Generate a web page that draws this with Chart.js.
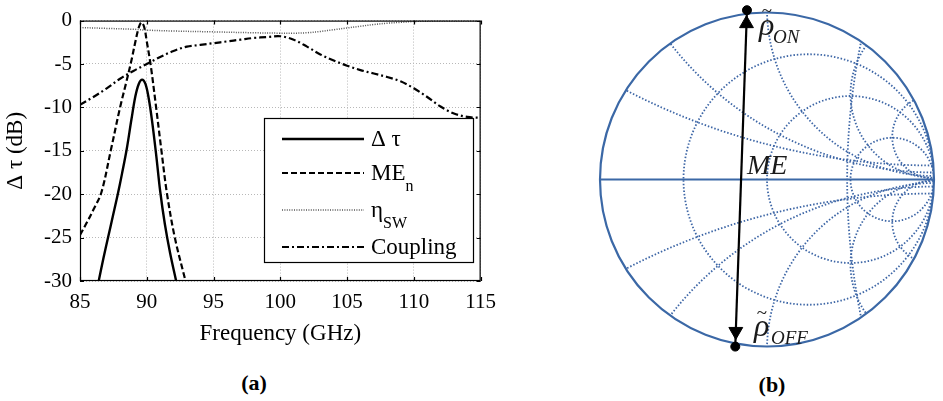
<!DOCTYPE html>
<html>
<head>
<meta charset="utf-8">
<script src="https://cdn.jsdelivr.net/npm/chart.js@4.4.1/dist/chart.umd.min.js"></script>
<style>
  body { margin: 0; background: #fff; }
  #wrap { position: relative; width: 943px; height: 401px; overflow: hidden; font-family: "Liberation Serif", serif; }
  #boxA { position: absolute; left: 0; top: 0; }
  #boxB { position: absolute; left: 590px; top: 0; }
  .cap { position: absolute; font-weight: bold; font-size: 22px; transform: translate(-50%, -50%); color: #000; }
</style>
</head>
<body>
<div id="wrap">
  <div id="boxA"><canvas id="chartA" width="505" height="350"></canvas></div>
  <div id="boxB"><canvas id="chartB" width="353" height="360"></canvas></div>
  <div class="cap" style="left:254px; top:383px;">(a)</div>
  <div class="cap" style="left:772px; top:385px;">(b)</div>
</div>
<script>
// ========== data ==========
const freqDeltaTau = [86.4, 86.75, 87.1, 87.45, 87.8, 88.15, 88.5, 88.85, 89.15, 89.4, 89.65, 89.9, 90.15, 90.4, 90.7, 91.0, 91.35, 91.75, 92.2];
const deltaTau     = [-30, -27.4, -25, -22.6, -20.2, -17.6, -14.8, -11.4, -8.7, -7.3, -6.8, -7.3, -9.0, -11.6, -15.4, -19.6, -23.4, -26.8, -30];

const freqMEn = [85, 85.5, 86.0, 86.6, 87.3, 88.0, 88.45, 88.85, 89.15, 89.4, 89.6, 89.8, 90.0, 90.3, 90.7, 91.1, 91.5, 92.1, 92.9];
const meN     = [-24.7, -23.3, -21.8, -19.8, -15, -10, -7.2, -4.6, -2.4, -0.8, -0.2, -0.7, -2.4, -5.2, -10, -15, -19.8, -25, -30];

const freqEtaSW = [85, 87, 89, 90, 92, 95, 98, 100, 101, 102, 103, 104, 105, 106, 107, 108, 109, 110, 112, 115];
const etaSW     = [-0.8, -0.9, -1.0, -1.1, -1.2, -1.3, -1.4, -1.45, -1.45, -1.4, -1.25, -1.05, -0.85, -0.65, -0.45, -0.3, -0.2, -0.1, -0.05, -0.05];

const freqCoupling = [85, 86, 87, 88, 89, 90, 91, 92, 93, 94, 95, 96, 97, 98, 99, 100, 101, 102, 103, 104, 105, 106, 107, 108, 109, 110, 111, 112, 113, 114, 115];
const coupling     = [-9.7, -8.8, -7.8, -6.7, -5.8, -5.0, -4.2, -3.5, -3.0, -2.8, -2.6, -2.4, -2.2, -2.0, -1.9, -1.8, -2.2, -3.0, -3.9, -4.6, -5.2, -5.7, -6.1, -6.5, -7.0, -7.8, -8.8, -9.9, -10.7, -11.1, -11.2];

const xTicks = [85, 90, 95, 100, 105, 110, 115];
const yTicks = [-30, -25, -20, -15, -10, -5, 0];

// ========== values for panel (b) ==========
const smithR = [1 / 3, 1, 3];          // resistance circles
const smithX = [0.25, 0.5, 1, 2, 4];   // reactance arcs (+/-)
const rhoOn  = [-0.12, 0.993];
const rhoOff = [-0.19, -0.98];

const serif = "Liberation Serif";

function pts(xs, ys) {
  return xs.map((x, i) => ({ x: x, y: ys[i] }));
}

// ========== plugins for panel (a) ==========
const frameA = {
  id: "frameA",
  afterDatasetsDraw(chart) {
    const { ctx, chartArea: a, scales } = chart;
    ctx.save();
    ctx.strokeStyle = "#000";
    ctx.lineWidth = 1.2;
    ctx.setLineDash([]);
    ctx.strokeRect(a.left + 0.5, a.top + 0.5, a.right - a.left - 1, a.bottom - a.top - 1);
    ctx.beginPath();
    xTicks.forEach(v => {
      const px = Math.round(scales.x.getPixelForValue(v)) + 0.5;
      ctx.moveTo(px, a.bottom); ctx.lineTo(px, a.bottom - 4);
      ctx.moveTo(px, a.top); ctx.lineTo(px, a.top + 4);
    });
    yTicks.forEach(v => {
      const py = Math.round(scales.y.getPixelForValue(v)) + 0.5;
      ctx.moveTo(a.left, py); ctx.lineTo(a.left + 4, py);
      ctx.moveTo(a.right, py); ctx.lineTo(a.right - 4, py);
    });
    ctx.stroke();
    ctx.restore();
  }
};

const legendA = {
  id: "legendA",
  afterDraw(chart) {
    const ctx = chart.ctx;
    const box = { l: 264, t: 118, r: 473, b: 262 };
    const rows = [
      { main: "\u0394 \u03C4", sub: "", y: 139 },
      { main: "ME", sub: "n", y: 173 },
      { main: "\u03B7", sub: "SW", y: 210 },
      { main: "Coupling", sub: "", y: 247 }
    ];
    ctx.save();
    ctx.fillStyle = "#fff";
    ctx.fillRect(box.l, box.t, box.r - box.l, box.b - box.t);
    ctx.strokeStyle = "#000";
    ctx.lineWidth = 1.2;
    ctx.setLineDash([]);
    ctx.strokeRect(box.l + 0.5, box.t + 0.5, box.r - box.l, box.b - box.t);
    rows.forEach((row, i) => {
      const ds = chart.data.datasets[i];
      ctx.beginPath();
      ctx.strokeStyle = ds.borderColor;
      ctx.lineWidth = ds.borderWidth;
      ctx.setLineDash(ds.borderDash || []);
      ctx.moveTo(282, row.y);
      ctx.lineTo(364, row.y);
      ctx.stroke();
      ctx.setLineDash([]);
      ctx.fillStyle = "#000";
      ctx.textBaseline = "alphabetic";
      ctx.font = "23px \"" + serif + "\"";
      ctx.fillText(row.main, 371, row.y + 7);
      if (row.sub) {
        const w = ctx.measureText(row.main).width;
        ctx.font = "16px \"" + serif + "\"";
        ctx.fillText(row.sub, 371 + w, row.y + 18);
      }
    });
    ctx.restore();
  }
};

const tickFont = { family: serif, size: 21 };
const titleFont = { family: serif, size: 23 };

new Chart(document.getElementById("chartA"), {
  type: "scatter",
  data: {
    datasets: [
      { label: "\u0394 \u03C4", data: pts(freqDeltaTau, deltaTau), showLine: true, borderColor: "#000", borderWidth: 2.4, borderDash: [], pointRadius: 0, tension: 0.35 },
      { label: "ME_n", data: pts(freqMEn, meN), showLine: true, borderColor: "#000", borderWidth: 2.2, borderDash: [6, 3], pointRadius: 0, tension: 0.35 },
      { label: "eta_SW", data: pts(freqEtaSW, etaSW), showLine: true, borderColor: "#555", borderWidth: 1.5, borderDash: [1, 1.4], pointRadius: 0, tension: 0.35 },
      { label: "Coupling", data: pts(freqCoupling, coupling), showLine: true, borderColor: "#000", borderWidth: 2.2, borderDash: [7, 3, 2, 3], pointRadius: 0, tension: 0.35 }
    ]
  },
  options: {
    responsive: false,
    animation: false,
    layout: { padding: { top: 13, right: 20, left: 0, bottom: 0 } },
    plugins: { legend: { display: false }, tooltip: { enabled: false } },
    scales: {
      x: {
        type: "linear", min: 85, max: 115,
        afterBuildTicks: s => { s.ticks = xTicks.map(v => ({ value: v })); },
        ticks: { color: "#000", font: tickFont, padding: 9, maxRotation: 0 },
        grid: { color: "#b8b8b8", lineWidth: 1, drawTicks: false },
        border: { display: false, dash: [1, 2] },
        title: { display: true, text: "Frequency (GHz)", color: "#000", font: titleFont, padding: { top: 0, bottom: 2 } },
        afterFit: s => { s.height = 69; }
      },
      y: {
        min: -30, max: 0,
        afterBuildTicks: s => { s.ticks = yTicks.map(v => ({ value: v })); },
        ticks: { color: "#000", font: tickFont, padding: 8 },
        grid: { color: "#b8b8b8", lineWidth: 1, drawTicks: false },
        border: { display: false, dash: [1, 2] },
        title: { display: true, text: "\u0394 \u03C4 (dB)", color: "#000", font: titleFont, padding: { top: 2, bottom: 0 } },
        afterFit: s => { s.width = 80; }
      }
    }
  },
  plugins: [frameA, legendA]
});

// ========== plugins for panel (b) ==========
const smithGrid = {
  id: "smithGrid",
  beforeDatasetsDraw(chart) {
    const { ctx, scales } = chart;
    const sx = scales.x, sy = scales.y;
    const cx = sx.getPixelForValue(0), cy = sy.getPixelForValue(0);
    const R = sx.getPixelForValue(1) - cx;
    const circle = (gx, gy, gr) => {
      ctx.beginPath();
      ctx.arc(sx.getPixelForValue(gx), sy.getPixelForValue(gy), gr * R, 0, Math.PI * 2);
      ctx.stroke();
    };
    ctx.save();
    ctx.beginPath();
    ctx.arc(cx, cy, R, 0, Math.PI * 2);
    ctx.clip();
    ctx.strokeStyle = "#3d66a6";
    ctx.lineWidth = 1.8;
    ctx.setLineDash([1.5, 1.9]);
    smithR.forEach(r => circle(r / (1 + r), 0, 1 / (1 + r)));
    smithX.forEach(x => { circle(1, 1 / x, 1 / x); circle(1, -1 / x, 1 / x); });
    circle(4.61, 0, 4.13);
    ctx.restore();

    ctx.save();
    ctx.strokeStyle = "#3b68a6";
    ctx.setLineDash([]);
    ctx.lineWidth = 2.2;
    ctx.beginPath();
    ctx.arc(cx, cy, R, 0, Math.PI * 2);
    ctx.stroke();
    ctx.lineWidth = 1.8;
    ctx.beginPath();
    ctx.moveTo(sx.getPixelForValue(-1), cy);
    ctx.lineTo(sx.getPixelForValue(1), cy);
    ctx.stroke();
    ctx.restore();
  },
  afterDraw(chart) {
    const ctx = chart.ctx;
    ctx.save();
    ctx.fillStyle = "#1a1a1a";
    ctx.textBaseline = "alphabetic";
    ctx.font = "italic 32px \"" + serif + "\"";
    ctx.fillText("\u03C1", 169, 35);
    ctx.fillText("\u03C1", 164, 336);
    ctx.font = "italic 28px \"" + serif + "\"";
    ctx.fillText("ME", 157, 174);
    ctx.font = "19px \"" + serif + "\"";
    ctx.textAlign = "center";
    ctx.fillText("~", 177, 17);
    ctx.fillText("~", 172, 319);
    ctx.textAlign = "left";
    ctx.font = "italic 19px \"" + serif + "\"";
    ctx.fillText("ON", 183, 43);
    ctx.fillText("OFF", 181, 344);
    ctx.restore();
  }
};

const headOn  = { x: rhoOn[0] + (rhoOff[0] - rhoOn[0]) * 0.04, y: rhoOn[1] + (rhoOff[1] - rhoOn[1]) * 0.04 };
const headOff = { x: rhoOn[0] + (rhoOff[0] - rhoOn[0]) * 0.955, y: rhoOn[1] + (rhoOff[1] - rhoOn[1]) * 0.955 };

new Chart(document.getElementById("chartB"), {
  type: "scatter",
  data: {
    datasets: [
      { data: [{ x: rhoOn[0], y: rhoOn[1] }, { x: rhoOff[0], y: rhoOff[1] }], showLine: true, borderColor: "#000", borderWidth: 2.2, pointRadius: 0, clip: 20 },
      { data: [headOn, headOff], showLine: false, pointStyle: "triangle", pointRadius: 8, pointRotation: c => (c.dataIndex === 0 ? 0 : 180), backgroundColor: "#000", borderColor: "#000", borderWidth: 1, clip: 20 },
      { data: [{ x: rhoOn[0], y: rhoOn[1] }, { x: rhoOff[0], y: rhoOff[1] }], showLine: false, pointRadius: 4.5, backgroundColor: "#000", borderColor: "#000", clip: 20 }
    ]
  },
  options: {
    responsive: false,
    animation: false,
    layout: { padding: { left: 10, right: 1, top: 8, bottom: 10 } },
    plugins: { legend: { display: false }, tooltip: { enabled: false } },
    scales: {
      x: { type: "linear", min: -1, max: 1, display: false },
      y: { type: "linear", min: -1, max: 1, display: false }
    }
  },
  plugins: [smithGrid]
});
</script>
</body>
</html>
